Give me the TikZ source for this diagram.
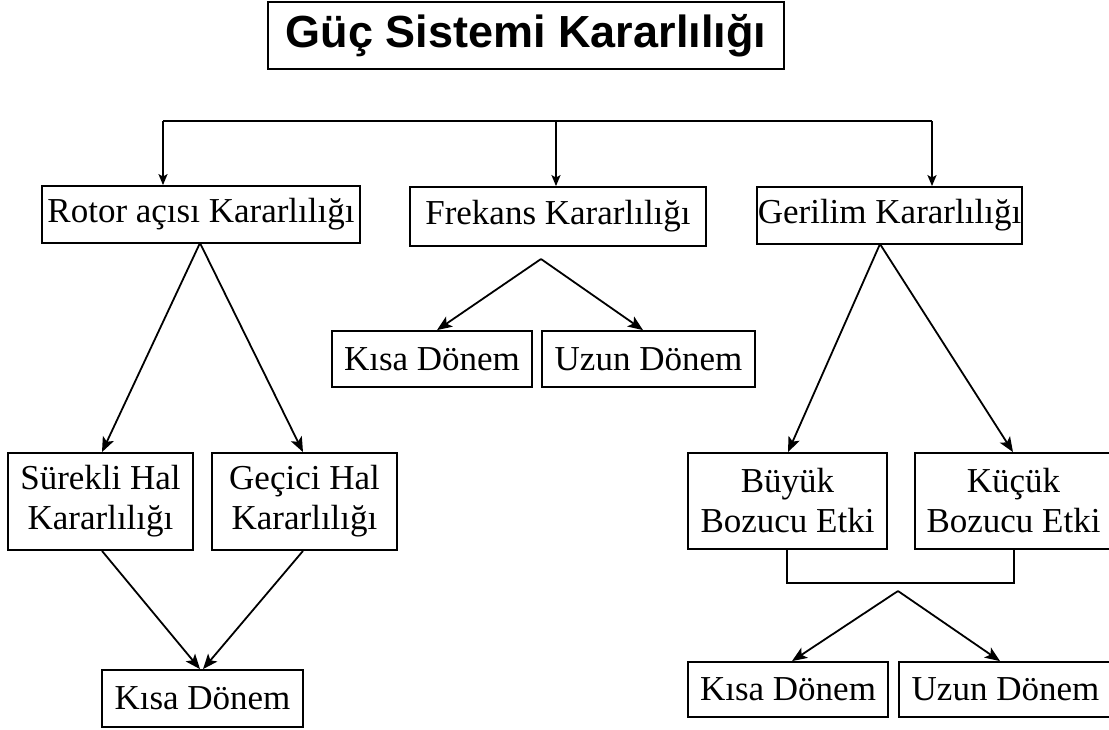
\documentclass[tikz,border=0pt]{standalone}
\usepackage{fontspec}
\setmainfont{Liberation Serif}
\newfontfamily\titlefont{Liberation Sans}
\usetikzlibrary{arrows.meta,calc}
\begin{document}
\begin{tikzpicture}[x=1pt,y=-1pt,
  box/.style={draw,line width=1.8pt,inner sep=0pt,align=center,
    font=\fontsize{35}{40}\selectfont},
  conn/.style={line width=1.8pt},
  arr/.style={conn,-{Stealth[length=15pt,width=12pt,inset=3.5pt]}},
  sarr/.style={conn,-{Stealth[length=11pt,width=9pt,inset=2.5pt]}}]
\path[use as bounding box] (0,0) rectangle (1109,729);
\begin{scope}
\clip (0,0) rectangle (1109,729);
\node[box,minimum width=516pt,minimum height=67pt,font=\titlefont\bfseries\fontsize{45}{50}\selectfont] (title) at (526,35.5) {Güç Sistemi Kararlılığı};
\node[box,minimum width=318pt,minimum height=57pt] (rotor) at (201,214.5) {Rotor açısı Kararlılığı};
\node[box,minimum width=296pt,minimum height=59pt] (frek) at (558,216.5) {Frekans Kararlılığı};
\node[box,minimum width=265pt,minimum height=57pt] (geril) at (889.5,215.5) {Gerilim Kararlılığı};
\node[box,minimum width=200pt,minimum height=56pt] (fkisa) at (432,359) {Kısa Dönem};
\node[box,minimum width=213pt,minimum height=56pt] (fuzun) at (648.5,359) {Uzun Dönem};
\node[box,minimum width=185pt,minimum height=97pt] (surekli) at (100.5,501.5) {Sürekli Hal\\Kararlılığı};
\node[box,minimum width=185pt,minimum height=97pt] (gecici) at (304.5,501.5) {Geçici Hal\\Kararlılığı};
\node[box,minimum width=201pt,minimum height=57pt] (rkisa) at (202.5,698.5) {Kısa Dönem};
\node[box,minimum width=199pt,minimum height=96pt] (buyuk) at (787.5,501) {Büyük\\Bozucu Etki};
\node[box,minimum width=197pt,minimum height=96pt] (kucuk) at (1013.5,501) {Küçük\\Bozucu Etki};
\node[box,minimum width=200pt,minimum height=55pt] (gkisa) at (788,689.5) {Kısa Dönem};
\node[box,minimum width=213pt,minimum height=55pt] (guzun) at (1005.5,689.5) {Uzun Dönem};
\end{scope}
% top bus
\coordinate (b1) at (163,121);
\coordinate (b2) at (556,121);
\coordinate (b3) at (932,121);
\draw[conn] (b1) -- (b3);
\draw[sarr] (b1) -- (b1 |- rotor.north);
\draw[sarr] (b2) -- (b2 |- frek.north);
\draw[sarr] (b3) -- (b3 |- geril.north);
% rotor branch
\coordinate (ra) at (200,243);
\draw[arr] (ra) -- (surekli.north -| 102,0);
\draw[arr] (ra) -- (gecici.north -| 303,0);
\draw[arr] (surekli.south -| 102,0) -- ($(rkisa.north)+(-2.5,0)$);
\draw[arr] (gecici.south -| 303,0) -- ($(rkisa.north)+(0.5,0)$);
% frekans branch
\coordinate (fa) at (541,259);
\draw[arr] (fa) -- (fkisa.north -| 437,0);
\draw[arr] (fa) -- (fuzun.north -| 643,0);
% gerilim branch
\coordinate (ga) at (880,244);
\draw[arr] (ga) -- (buyuk.north -| 788,0);
\draw[arr] (ga) -- (kucuk.north -| 1013,0);
\draw[conn] (buyuk.south -| 787,0) -- (787,583) -- (1014,583) -- (kucuk.south -| 1014,0);
\coordinate (gb) at (898,591);
\draw[arr] (gb) -- (gkisa.north -| 792,0);
\draw[arr] (gb) -- (guzun.north -| 1000,0);
\end{tikzpicture}
\end{document}
